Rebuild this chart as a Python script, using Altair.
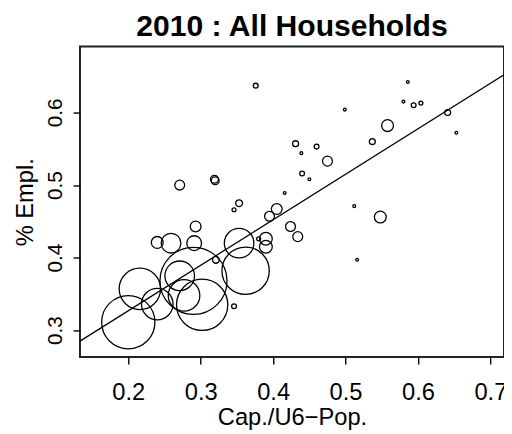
import altair as alt
import pandas as pd

# Share of capacity vs U6 population (x), % employed (y), household weight (circle area)
cap_u6 = [0.376, 0.586, 0.499, 0.580, 0.594, 0.604, 0.641, 0.653, 0.558, 0.537,
          0.431, 0.439, 0.460, 0.475, 0.440, 0.450, 0.416, 0.319, 0.320, 0.271,
          0.353, 0.346, 0.405, 0.395, 0.512, 0.548, 0.424, 0.434, 0.516, 0.293,
          0.240, 0.259, 0.291, 0.353, 0.390, 0.390, 0.380, 0.321, 0.362, 0.290,
          0.271, 0.216, 0.277, 0.240, 0.302, 0.346, 0.200]
empl = [0.637, 0.642, 0.604, 0.615, 0.610, 0.613, 0.600, 0.572, 0.582, 0.560,
        0.557, 0.544, 0.553, 0.533, 0.516, 0.508, 0.489, 0.508, 0.506, 0.500,
        0.475, 0.466, 0.467, 0.457, 0.471, 0.456, 0.443, 0.429, 0.397, 0.443,
        0.421, 0.420, 0.420, 0.420, 0.426, 0.415, 0.426, 0.397, 0.382, 0.368,
        0.375, 0.357, 0.348, 0.336, 0.335, 0.333, 0.311]
weight = [6, 2, 2, 2, 6, 4, 9, 2, 36, 9,
          9, 2, 6, 25, 6, 2, 2, 16, 16, 25,
          12, 4, 30, 25, 2, 36, 25, 25, 2, 30,
          36, 100, 56, 225, 42, 42, 4, 12, 576, 1156,
          225, 441, 256, 256, 676, 6, 729]

# Fitted regression line
intercept = 0.2014
slope = 0.627
x_domain = [0.1333, 0.7188]
y_domain = [0.263, 0.691]

title_text = ["2010 : All Households"]

pts = pd.DataFrame({"cap": cap_u6, "empl": empl, "w": weight})
line_df = pd.DataFrame({"cap": x_domain})
line_df["empl"] = intercept + slope * line_df["cap"]

FONT = "Liberation Sans"
W, H = 430, 315

xscale = alt.Scale(domain=x_domain, nice=False, zero=False)
yscale = alt.Scale(domain=y_domain, nice=False, zero=False)

xaxis = alt.Axis(values=[0.2, 0.3, 0.4, 0.5, 0.6, 0.7], format=".1f", domain=False, grid=False,
                 tickSize=7, tickColor="black", tickWidth=1.4,
                 labelFont=FONT, labelFontSize=24, labelColor="black", labelPadding=17,
                 title="Cap./U6\u2212Pop.", titleFont=FONT, titleFontSize=24,
                 titleFontWeight="normal", titleColor="black", titlePadding=1)
yaxis = alt.Axis(values=[0.3, 0.4, 0.5, 0.6], format=".1f", domain=False, grid=False,
                 tickSize=7, tickColor="black", tickWidth=1.4,
                 labelFont=FONT, labelFontSize=21, labelColor="black", labelPadding=8,
                 labelAngle=270, labelAlign="center", labelBaseline="bottom",
                 title="% Empl.", titleFont=FONT, titleFontSize=24,
                 titleFontWeight="normal", titleColor="black", titlePadding=7)

circles = alt.Chart(pts).mark_point(shape="circle", filled=False, color="black",
                                    strokeWidth=1.3, opacity=1).encode(
    x=alt.X("cap:Q", scale=xscale, axis=xaxis),
    y=alt.Y("empl:Q", scale=yscale, axis=yaxis),
    size=alt.Size("w:Q", scale=alt.Scale(domain=[0, 1200], range=[0, 4800]), legend=None),
)

line = alt.Chart(line_df).mark_line(color="black", strokeWidth=1.3, clip=True).encode(
    x=alt.X("cap:Q", scale=xscale),
    y=alt.Y("empl:Q", scale=yscale),
)

title = alt.Chart(pd.DataFrame({"t": title_text})).mark_text(
    font=FONT, fontSize=30.5, fontWeight="bold", color="black",
    align="center", baseline="alphabetic"
).encode(text="t:N", x=alt.value(W / 2), y=alt.value(-11))

chart = alt.layer(circles, line, title).properties(
    width=W, height=H,
    background="white",
    padding={"left": 73, "top": 36, "right": 0, "bottom": 75},
    autosize=alt.AutoSizeParams(type="none"),
).configure_view(stroke="#222222", strokeWidth=2)

chart.save("out.html", embed_options={"renderer": "svg", "actions": False})
